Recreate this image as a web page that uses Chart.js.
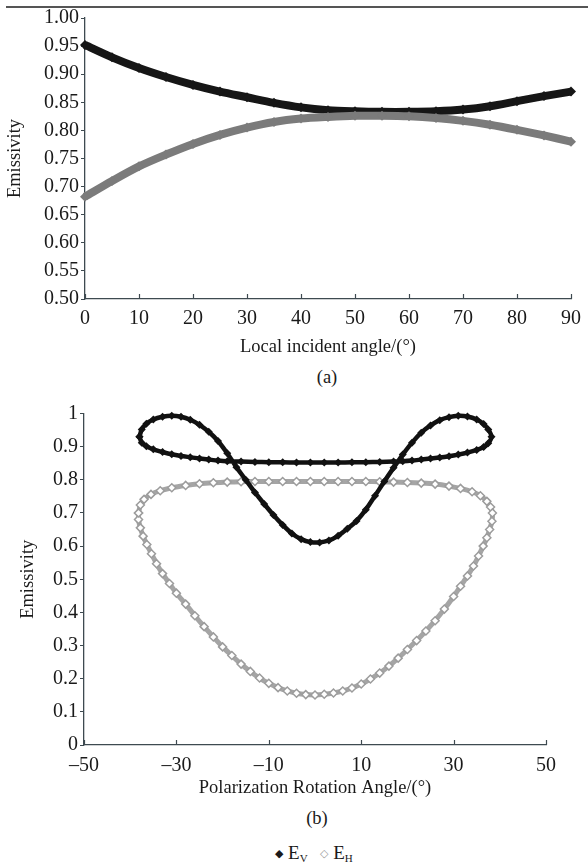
<!DOCTYPE html>
<html>
<head>
<meta charset="utf-8">
<script src="https://cdn.jsdelivr.net/npm/chart.js@4.4.0/dist/chart.umd.min.js"></script>
<style>
body { margin: 0; background: #fff; }
#page { position: relative; width: 588px; height: 863px; overflow: hidden; background: #fff;
        font-family: 'Liberation Serif', 'Times New Roman', serif; color: #1a1a1a; }
#rule { position: absolute; left: 6px; top: 6px; width: 582px; height: 2px; background: #555; }
canvas { position: absolute; left: 0; }
#chartA { top: 0; }
#chartB { top: 395px; }
.cap { position: absolute; font-size: 18.5px; transform: translate(-50%, -50%); white-space: nowrap; }
#capA { left: 327px; top: 377px; }
#capB { left: 317px; top: 818px; }
#legend { left: 314px; top: 853px; font-size: 19px; }
#legend sub { font-size: 11px; vertical-align: -3px; }
.mk { font-size: 11px; vertical-align: 2px; }
.mk.gray { color: #999; margin-left: 8px; }
</style>
</head>
<body>
<div id="page">
  <div id="rule"></div>
  <canvas id="chartA" width="588" height="362"></canvas>
  <div class="cap" id="capA">(a)</div>
  <canvas id="chartB" width="588" height="408"></canvas>
  <div class="cap" id="capB">(b)</div>
  <div class="cap" id="legend"><span class="mk">&#9670;</span> E<sub>V</sub> <span class="mk gray">&#9671;</span> E<sub>H</sub></div>
</div>
<script>
// (a) emissivity vs local incident angle
var incidentAngle = [0, 5, 10, 15, 20, 25, 30, 35, 40, 45, 50, 55, 60, 65, 70, 75, 80, 85, 90];
var evLocal = [0.952, 0.930, 0.911, 0.895, 0.881, 0.869, 0.859, 0.849, 0.841, 0.836, 0.834, 0.833,
    0.833, 0.834, 0.837, 0.843, 0.852, 0.861, 0.869];
var ehLocal = [0.682, 0.710, 0.736, 0.757, 0.776, 0.792, 0.805, 0.815, 0.821, 0.824, 0.826, 0.826,
    0.825, 0.822, 0.817, 0.810, 0.801, 0.791, 0.780];

// (b) emissivity vs polarization rotation angle (closed curves, in drawing order)
var rotV = [-38, -37.5, -36.5, -35, -33, -31, -29, -27, -25, -23, -21, -19, -17, -15, -13, -11, -9, -7, -5, -3, -1,
    1, 3, 5, 7, 9, 11, 13, 15, 17, 19, 21, 23, 25, 27, 29, 31, 33, 35, 36.5, 37.5, 38.2,
    37.5, 36.5, 35, 33, 31, 29, 27, 25, 23, 21, 19, 17, 14, 11, 8, 5, 2, -1, -4, -7, -10, -13, -16, -19,
    -21, -23, -25, -27, -29, -31, -33, -35, -36.5, -37.5, -38];
var emisV = [0.930, 0.952, 0.969, 0.982, 0.990, 0.993, 0.990, 0.981, 0.966, 0.945, 0.917, 0.880, 0.838, 0.800,
    0.762, 0.727, 0.694, 0.664, 0.638, 0.621, 0.612,
    0.611, 0.617, 0.631, 0.652, 0.676, 0.710, 0.752, 0.795, 0.836, 0.876, 0.912, 0.942, 0.964, 0.980, 0.989,
    0.993, 0.991, 0.982, 0.968, 0.952, 0.930,
    0.910, 0.899, 0.890, 0.882, 0.876, 0.871, 0.867, 0.864, 0.861, 0.858, 0.856, 0.855, 0.854, 0.853, 0.853,
    0.852, 0.852, 0.852, 0.852, 0.853, 0.853, 0.854, 0.855, 0.856,
    0.858, 0.861, 0.864, 0.868, 0.872, 0.877, 0.884, 0.892, 0.901, 0.912, 0.930];

var rotH = [-38.2, -37.8, -37, -35.5, -33.5, -31, -28, -25, -22, -19, -16, -13, -10, -7, -4, -1, 2, 5, 8, 11,
    14, 17, 20, 23, 26, 29, 31.5, 34, 35.8, 37.2, 38, 38.4,
    38.3, 37.8, 37.2, 36.4, 35.4, 34.3, 33, 31.5, 30, 28, 26, 24, 22, 20, 18, 16, 14, 12, 10, 8, 6, 4, 2, 0,
    -2, -4, -6, -8, -10, -12, -14, -16, -18, -20, -22, -24, -26, -28, -30, -31.5, -33, -34.3, -35.4, -36.4,
    -37.2, -37.8, -38.2, -38.2];
var emisH = [0.700, 0.724, 0.741, 0.756, 0.767, 0.776, 0.783, 0.788, 0.791, 0.793, 0.794, 0.795, 0.795, 0.795,
    0.795, 0.795, 0.795, 0.795, 0.795, 0.795, 0.794, 0.793, 0.792, 0.790, 0.787, 0.781, 0.774, 0.764, 0.752,
    0.735, 0.718, 0.700,
    0.675, 0.650, 0.625, 0.600, 0.570, 0.540, 0.510, 0.479, 0.448, 0.410, 0.375, 0.344, 0.315, 0.288, 0.262,
    0.238, 0.217, 0.199, 0.184, 0.172, 0.163, 0.157, 0.153, 0.151,
    0.152, 0.156, 0.163, 0.173, 0.186, 0.202, 0.222, 0.244, 0.270, 0.296, 0.326, 0.357, 0.390, 0.425, 0.458,
    0.487, 0.517, 0.547, 0.577, 0.605, 0.630, 0.655, 0.680, 0.700];

var axisColor = '#3e4a50';
Chart.defaults.font.family = "'Liberation Serif', 'Times New Roman', serif";
Chart.defaults.font.size = 20;
Chart.defaults.color = '#1a1a1a';

function toPoints(xs, ys) {
    return xs.map(function (x, i) { return {x: x, y: ys[i]}; });
}

// x-axis tick marks point up into the plot
var inwardTicks = {
    id: 'inwardTicks',
    afterDraw: function (chart) {
        var sx = chart.scales.x, ctx = chart.ctx, b = chart.chartArea.bottom;
        ctx.save();
        ctx.strokeStyle = axisColor;
        ctx.lineWidth = 1.2;
        sx.ticks.forEach(function (t) {
            var px = Math.round(sx.getPixelForValue(t.value)) + 0.5;
            ctx.beginPath();
            ctx.moveTo(px, b);
            ctx.lineTo(px, b - 5);
            ctx.stroke();
        });
        ctx.restore();
    }
};

var dash = function (v) { return v < 0 ? '\u2013' + Math.abs(v) : String(v); };
var plain = function (v) { return String(parseFloat(v.toFixed(1))); };

new Chart(document.getElementById('chartA'), {
    type: 'line',
    data: {
        datasets: [{
            label: 'EH',
            data: toPoints(incidentAngle, ehLocal),
            borderColor: '#7b7b7b', backgroundColor: '#7b7b7b', borderWidth: 8,
            pointStyle: 'rectRot', pointRadius: 5, pointBorderWidth: 0,
            tension: 0.3, order: 0, clip: false
        }, {
            label: 'EV',
            data: toPoints(incidentAngle, evLocal),
            borderColor: '#161616', backgroundColor: '#161616', borderWidth: 8,
            pointStyle: 'rectRot', pointRadius: 5, pointBorderWidth: 0,
            tension: 0.3, order: 1, clip: false
        }]
    },
    options: {
        responsive: false, animation: false,
        layout: {padding: {top: 18, right: 17, left: 0, bottom: 0}},
        plugins: {legend: {display: false}, tooltip: {enabled: false}},
        scales: {
            x: {
                type: 'linear', min: 0, max: 90,
                ticks: {stepSize: 10, padding: 0},
                grid: {display: false},
                border: {color: axisColor, width: 1.3},
                title: {display: true, text: 'Local incident angle/(°)', font: {size: 18.5}, padding: {top: 4, bottom: 4}},
                afterFit: function (s) { s.height = 63; }
            },
            y: {
                min: 0.5, max: 1,
                ticks: {stepSize: 0.05, padding: 2, callback: function (v) { return v.toFixed(2); }},
                grid: {drawOnChartArea: false, tickLength: 4, color: axisColor},
                border: {color: axisColor, width: 1.3},
                title: {display: true, text: 'Emissivity', font: {size: 18.5}, padding: {top: 4, bottom: 4}},
                afterFit: function (s) { s.width = 85; }
            }
        }
    },
    plugins: [inwardTicks]
});

new Chart(document.getElementById('chartB'), {
    type: 'scatter',
    data: {
        datasets: [{
            label: 'EV',
            data: toPoints(rotV, emisV),
            showLine: true, borderColor: '#111', backgroundColor: '#111', borderWidth: 4.5,
            pointStyle: 'rectRot', pointRadius: 4, pointBorderWidth: 0,
            tension: 0.25, order: 0, clip: false
        }, {
            label: 'EH',
            data: toPoints(rotH, emisH),
            showLine: true, borderColor: '#a5a5a5', borderWidth: 5,
            pointStyle: 'rectRot', pointRadius: 4, pointBackgroundColor: '#fff',
            pointBorderColor: '#9c9c9c', pointBorderWidth: 1.5,
            tension: 0.25, order: 1, clip: false
        }]
    },
    options: {
        responsive: false, animation: false,
        layout: {padding: {top: 18.5, right: 42, left: 13, bottom: 0}},
        plugins: {legend: {display: false}, tooltip: {enabled: false}},
        scales: {
            x: {
                type: 'linear', min: -50, max: 50,
                ticks: {stepSize: 20, padding: 1, callback: dash},
                grid: {display: false},
                border: {color: axisColor, width: 1.3},
                title: {display: true, text: 'Polarization Rotation Angle/(°)', font: {size: 18.5}, padding: {top: 4, bottom: 4}},
                afterFit: function (s) { s.height = 58; }
            },
            y: {
                min: 0, max: 1,
                ticks: {stepSize: 0.1, padding: 2, callback: plain},
                grid: {drawOnChartArea: false, tickLength: 4, color: axisColor},
                border: {color: axisColor, width: 1.3},
                title: {display: true, text: 'Emissivity', font: {size: 18.5}, padding: {top: 4, bottom: 4}},
                afterFit: function (s) { s.width = 71; }
            }
        }
    },
    plugins: [inwardTicks]
});
</script>
</body>
</html>
